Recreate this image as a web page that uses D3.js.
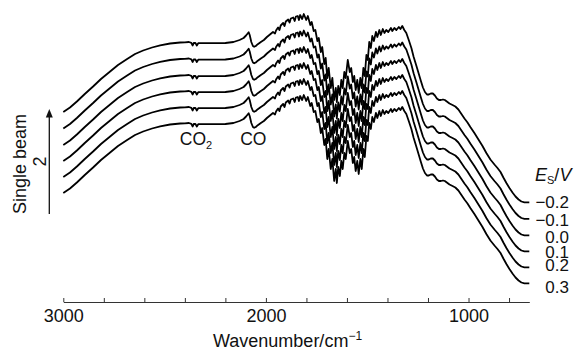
<!DOCTYPE html>
<html>
<head>
<meta charset="utf-8">
<script src="https://cdn.jsdelivr.net/npm/d3@7/dist/d3.min.js"></script>
<style>
  html, body { margin: 0; padding: 0; background: #fff; }
  svg { display: block; }
  text { font-family: "Liberation Sans", Arial, Helvetica, sans-serif; fill: #111; }
</style>
</head>
<body>
<svg id="chart" width="574" height="349"></svg>
<script>
// Wavenumber grid (cm^-1) of the reference spectrum (top trace, E_S = -0.2 V)
const wavenumber = [
  3000, 2967, 2933, 2894, 2853, 2814, 2769, 2730, 2685, 2646, 2606, 2562, 2522, 2473, 2423,
  2400, 2380, 2368, 2362, 2356, 2348, 2341, 2334, 2320, 2250, 2200, 2160, 2130, 2110, 2098,
  2090, 2085, 2080, 2072, 2064, 2058, 2050, 2040, 2025, 2010, 1995, 1980, 1965,
  1955, 1950, 1940, 1933, 1927, 1915, 1908, 1902, 1890, 1883, 1877, 1865, 1858, 1852, 1843, 1837, 1831,
  1821, 1813, 1801, 1793, 1781, 1774, 1764, 1756, 1746, 1739, 1729, 1722, 1712, 1705, 1697, 1690,
  1680, 1672, 1663, 1655, 1650, 1643, 1635, 1628, 1621, 1613, 1606, 1596, 1586, 1579, 1571, 1564,
  1557, 1549, 1542, 1534, 1527, 1519, 1512, 1504, 1497, 1490, 1482, 1475, 1467, 1457, 1450, 1440,
  1433, 1423, 1415, 1406, 1396, 1383, 1376, 1366, 1356, 1344, 1336, 1327, 1317, 1307,
  1295, 1282, 1271, 1257, 1246, 1235, 1225, 1215, 1205, 1196, 1186, 1176, 1166, 1156, 1146, 1136,
  1126, 1117, 1107, 1094, 1079, 1065, 1050, 1035, 1020, 1005, 991, 971, 951, 931, 912, 892,
  872, 857, 842, 828, 813, 798, 783, 768, 753, 739, 724, 700
];
// Single-beam signal (arbitrary units) of the top trace
const baseSignal = [
  19.0, 19.45, 20.05, 20.8, 21.55, 22.3, 23.05, 23.7, 24.3, 24.8, 25.15, 25.45, 25.67, 25.85, 25.95,
  25.97, 26.0, 25.92, 25.65, 25.9, 25.92, 25.65, 25.88, 25.88, 25.88, 25.9, 26.0, 26.2, 26.4, 26.65,
  26.85, 26.98, 26.7, 26.0, 25.6, 25.52, 25.6, 25.78, 26.0, 26.2, 26.5, 26.75, 27.0,
  26.85, 27.15, 27.45, 27.2, 27.65, 27.9, 27.6, 28.05, 28.25, 27.95, 28.35, 28.45, 28.1, 28.55, 28.6, 28.2, 28.7,
  28.3, 28.8, 28.2, 28.6, 27.7, 28.0, 27.1, 27.2, 26.1, 26.4, 25.0, 25.5, 23.8, 24.4, 22.4, 23.4,
  21.4, 22.4, 20.2, 21.4, 20.0, 21.6, 20.7, 22.2, 21.4, 23.0, 22.4, 24.2, 23.0, 23.4, 22.0, 22.6,
  21.2, 22.2, 20.9, 22.4, 21.4, 23.4, 22.6, 24.7, 24.2, 26.0, 25.4, 26.6, 26.1, 27.0, 26.5, 27.2,
  26.7, 27.3, 26.9, 27.2, 27.0, 27.4, 27.1, 27.4, 27.2, 27.5, 27.3, 27.6, 27.2, 26.9,
  26.2, 25.4, 24.53, 23.6, 22.85, 22.1, 21.45, 21.0, 20.75, 20.75, 20.85, 20.85, 20.65, 20.35, 20.2, 20.2,
  20.25, 20.2, 20.05, 19.85, 19.7, 19.55, 19.25, 18.8, 18.35, 17.95, 17.5, 16.9, 16.25, 15.6, 14.9, 14.25,
  13.75, 13.4, 13.0, 12.45, 11.9, 11.4, 10.95, 10.55, 10.25, 10.05, 9.97, 9.97
];
// Electrode potentials (V), top trace first, and their vertical stacking offsets
const potentials = ["\u22120.2", "\u22120.1", "0.0", "0.1", "0.2", "0.3"];
const stackOffsets = [0, 1.65, 3.3, 4.9, 6.5, 8.1];
// Axis ticks
const minorTicks = [3000, 2800, 2600, 2400, 2200, 2000, 1800, 1600, 1400, 1200, 1000, 800];
const tickLabels = [3000, 2000, 1000];
// Band annotations
const bandLabels = [
  { name: "CO", sub: "2", wn: 2345 },
  { name: "CO", sub: "", wn: 2062 }
];

// small vertical nudges (px) that keep the potential labels legible
const labelShift = [-0.6, 1.2, 2, 0.4, -2.3, 3.4];

const svg = d3.select("#chart");
const x = d3.scaleLinear().domain([3000, 700]).range([63.3, 529.3]);
const y = d3.scaleLinear().domain([0, 30]).range([302, 2]);

// x axis
const xAxis = d3.axisBottom(x)
  .tickValues(minorTicks)
  .tickSizeInner(-4)
  .tickSizeOuter(0)
  .tickPadding(7)
  .tickFormat(d => tickLabels.includes(d) ? d : "");
const gx = svg.append("g").attr("transform", `translate(0,${y(0)})`).call(xAxis);
gx.select(".domain").attr("stroke", "#333").attr("stroke-width", 1.2);
gx.selectAll(".tick line").attr("stroke", "#333").attr("stroke-width", 1);
gx.selectAll(".tick text")
  .style("font-family", '"Liberation Sans", Arial, sans-serif')
  .style("font-size", "18px").attr("fill", "#111");

// x axis title
const xt = svg.append("text")
  .attr("x", 213).attr("y", 346.5)
  .style("font-size", "18px");
xt.append("tspan").text("Wavenumber/cm");
xt.append("tspan").attr("dy", -7).style("font-size", "12px").text("\u22121");

// y axis title with arrow
svg.append("text")
  .attr("transform", "translate(26,164) rotate(-90)")
  .attr("text-anchor", "middle")
  .style("font-size", "18px")
  .text("Single beam");
svg.append("text")
  .attr("transform", "translate(45.5,161.5) rotate(-90)")
  .attr("text-anchor", "middle")
  .style("font-size", "18px")
  .text("2");
svg.append("line")
  .attr("x1", 49.3).attr("x2", 49.3).attr("y1", 214).attr("y2", 116)
  .attr("stroke", "#111").attr("stroke-width", 1.3);
svg.append("path")
  .attr("d", "M49.3,109 L45.8,117.5 L52.8,117.5 Z")
  .attr("fill", "#111");

// spectra
const line = d3.line()
  .x(d => x(d[0]))
  .y(d => y(d[1]))
  .curve(d3.curveLinear);

potentials.forEach((p, i) => {
  const pts = wavenumber.map((w, j) => [w, baseSignal[j] - stackOffsets[i]]);
  svg.append("path")
    .datum(pts)
    .attr("d", line)
    .attr("fill", "none")
    .attr("stroke", "#000")
    .attr("stroke-width", 1.8)
    .attr("stroke-linejoin", "round");
  const last = pts[pts.length - 1];
  svg.append("text")
    .attr("x", 569)
    .attr("y", y(last[1]) + labelShift[i])
    .attr("dy", "0.36em")
    .attr("text-anchor", "end")
    .style("font-size", "17px")
    .text(p);
});

// potential legend title E_S/V
const et = svg.append("text").attr("x", 535).attr("y", 180.5).style("font-size", "18px");
et.append("tspan").style("font-style", "italic").text("E");
et.append("tspan").attr("dy", 3).style("font-size", "11px").text("S");
et.append("tspan").attr("dy", -3).text("/");
et.append("tspan").style("font-style", "italic").text("V");

// band labels
bandLabels.forEach(b => {
  const t = svg.append("text")
    .attr("x", x(b.wn))
    .attr("y", 145)
    .attr("text-anchor", "middle")
    .style("font-size", "17.5px");
  t.append("tspan").text(b.name);
  if (b.sub) t.append("tspan").attr("dy", 4).style("font-size", "11px").text(b.sub);
});
</script>
</body>
</html>
